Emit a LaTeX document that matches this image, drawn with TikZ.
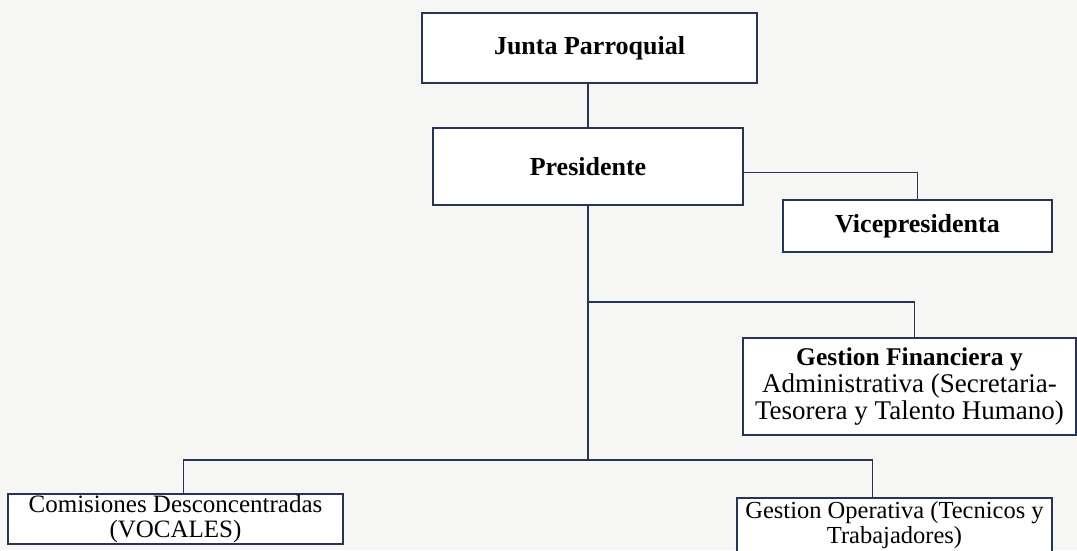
\documentclass[tikz,border=0pt]{standalone}
\usepackage{fontspec}
\setmainfont{Liberation Serif}
\definecolor{ink}{RGB}{38,52,88}
\definecolor{paper}{RGB}{246,246,245}
\begin{document}
\begin{tikzpicture}[x=1pt,y=-1pt,
  box/.style={draw=ink,line width=1.7pt,fill=white,rectangle,inner sep=0pt,align=center,text=black},
  link/.style={draw=ink,line width=1.9pt}]
\useasboundingbox (0,0) rectangle (1077,550);
\fill[paper] (0,0) rectangle (1077,550);
\node[box,minimum width=335pt,minimum height=70pt,font=\fontsize{26}{28}\selectfont\bfseries] (junta) at (589.5,48) {Junta Parroquial};
\node[box,minimum width=310pt,minimum height=77pt,font=\fontsize{26}{28}\selectfont\bfseries] (pres) at (588,166.5) {Presidente};
\node[box,minimum width=269pt,minimum height=52pt,font=\fontsize{26}{28}\selectfont\bfseries] (vice) at (917.5,226) {Vicepresidenta};
\node[box,minimum width=333pt,minimum height=97pt,font=\fontsize{27}{27}\selectfont] (gfin) at (909.5,386.5) {{\fontsize{25.5}{27}\selectfont\bfseries Gestion Financiera y}\\Administrativa (Secretaria-\\Tesorera y Talento Humano)};
\node[box,minimum width=335pt,minimum height=50pt,font=\fontsize{25}{24.5}\selectfont] (com) at (175.5,519) {Comisiones Desconcentradas\\(VOCALES)};
\node[box,minimum width=315pt,minimum height=54pt,font=\fontsize{24.5}{24.5}\selectfont] (gop) at (894.5,525) {Gestion Operativa (Tecnicos y\\Trabajadores)};
\coordinate (mid) at (588,302);
\coordinate (low) at (588,460);
\draw[link,line width=2.6pt] (pres.north) -- (pres.north |- junta.south);
\draw[link] ([yshift=-6pt]pres.east) -| (vice.north);
\draw[link] (pres.south) -- (low);
\draw[link] (mid) -| ([xshift=5pt]gfin.north);
\draw[link] ([xshift=8pt]com.north) |- (low) -| ([xshift=-22pt]gop.north);
\end{tikzpicture}
\end{document}
